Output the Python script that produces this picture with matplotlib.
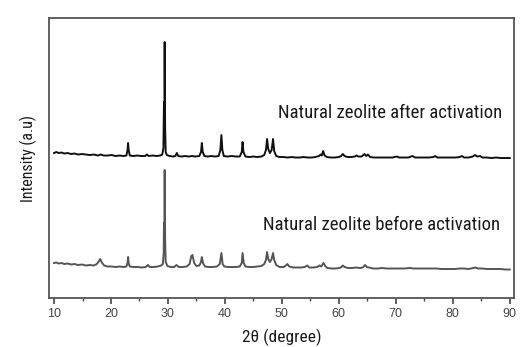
import matplotlib
matplotlib.use('Agg')
import matplotlib.pyplot as plt
import numpy as np

# XRD patterns of the zeolite, (2theta, intensity a.u.) pairs
after_activation = [
    (10.0, 145), (10.4, 146), (10.8, 145), (11.3, 145.5), (11.8, 144.5), (12.4, 145), (13.0, 144),
    (13.6, 144.5), (14.2, 143.5), (14.9, 144), (15.6, 143.5), (16.3, 143), (17.0, 143.5), (17.7, 142.5),
    (18.2, 143.5), (18.7, 142.5), (19.4, 142.5), (20.1, 143), (20.8, 142), (21.5, 142.5), (22.2, 142),
    (22.7, 142.5), (22.9, 148), (23.0, 155), (23.1, 148), (23.3, 142.5), (23.9, 142), (24.6, 142.5),
    (25.3, 142), (26.0, 142), (26.3, 143.5), (26.6, 142), (27.3, 142.5), (28.0, 142), (28.6, 142.5),
    (29.0, 143.5), (29.2, 150), (29.3, 196), (29.36, 160), (29.42, 256), (29.5, 170), (29.6, 146),
    (29.8, 143), (30.3, 142), (30.9, 141.5), (31.3, 142), (31.55, 145), (31.8, 142), (32.4, 141.5),
    (33.0, 142), (33.6, 141.5), (34.2, 142), (34.8, 141.5), (35.5, 142), (35.8, 146), (35.95, 155),
    (36.1, 146), (36.4, 142), (37.0, 141.5), (37.6, 142), (38.3, 141.5), (38.9, 142), (39.2, 148),
    (39.38, 163), (39.55, 148), (39.8, 142), (40.5, 141.5), (41.2, 142), (41.9, 141.5), (42.6, 141.5),
    (42.95, 146), (43.1, 156), (43.25, 146), (43.6, 141.5), (44.3, 141), (45.0, 141.5), (45.7, 141),
    (46.4, 141.5), (46.9, 143), (47.2, 148), (47.4, 159), (47.6, 149), (47.9, 145), (48.2, 148),
    (48.45, 159), (48.65, 147), (49.0, 142), (49.6, 141), (50.3, 141), (51.0, 140.5), (51.7, 141),
    (52.4, 140.5), (53.1, 140.5), (53.8, 141), (54.5, 140.5), (55.2, 140.5), (55.9, 141), (56.5, 142),
    (56.8, 143.5), (57.0, 142.5), (57.25, 147), (57.5, 142.5), (57.9, 141), (58.6, 140.5), (59.3, 140.5),
    (60.0, 141), (60.4, 142), (60.7, 144), (61.0, 142), (61.5, 141), (62.2, 141), (62.8, 141.5),
    (63.1, 142.5), (63.4, 141.5), (64.0, 141.5), (64.5, 144), (64.8, 142), (65.1, 143.5), (65.5, 141),
    (66.2, 140.5), (67.0, 140.5), (67.8, 140.5), (68.6, 140.5), (69.4, 140.5), (70.2, 141.5), (70.6, 140.5),
    (71.4, 140.5), (72.2, 140.5), (72.9, 142), (73.4, 140.5), (74.2, 140.5), (75.0, 140.5), (75.8, 140.5),
    (76.6, 141), (76.9, 142), (77.3, 140.5), (78.1, 140.5), (78.9, 140.5), (79.7, 140.5), (80.5, 140.5),
    (81.2, 141), (81.6, 142), (82.0, 140.5), (82.8, 140.5), (83.5, 141.5), (83.9, 143), (84.3, 141.5),
    (84.8, 142), (85.2, 140.5), (86.0, 140.5), (86.8, 140), (87.6, 140.5), (88.4, 140), (89.2, 140),
    (90.0, 140),
]

before_activation = [
    (10.0, 35), (10.4, 35.5), (10.8, 34.5), (11.3, 35), (11.8, 34), (12.4, 34.5), (13.0, 33.5),
    (13.6, 34), (14.2, 33), (14.9, 33.5), (15.6, 32.5), (16.3, 33), (16.9, 32.5), (17.4, 33.5),
    (17.8, 36), (18.1, 39), (18.4, 35.5), (18.8, 32.5), (19.4, 31.5), (20.1, 31.5), (20.8, 31),
    (21.5, 31.5), (22.2, 31), (22.7, 31.5), (22.9, 35), (23.0, 41), (23.1, 35), (23.3, 31.5),
    (24.0, 31), (24.7, 31), (25.4, 30.5), (26.1, 31), (26.5, 33), (26.8, 31), (27.5, 31),
    (28.2, 31.5), (28.8, 32.5), (29.1, 34), (29.25, 45), (29.3, 75), (29.36, 55), (29.42, 128),
    (29.5, 60), (29.6, 36), (29.9, 32), (30.5, 31), (31.1, 31), (31.5, 33), (31.9, 31), (32.6, 31),
    (33.3, 31.5), (33.8, 34), (34.1, 42), (34.3, 43), (34.6, 35), (35.0, 32), (35.5, 32.5), (35.8, 36),
    (35.95, 41), (36.15, 35), (36.5, 31.5), (37.2, 31), (37.9, 31), (38.6, 31.5), (39.1, 34),
    (39.38, 45), (39.6, 34), (39.9, 31.5), (40.6, 31), (41.3, 31), (42.0, 31), (42.6, 31.5),
    (42.95, 35), (43.1, 45), (43.3, 35), (43.6, 31.5), (44.3, 31), (45.0, 31), (45.7, 31.5),
    (46.4, 32), (46.9, 34), (47.2, 38), (47.4, 46), (47.6, 39), (47.9, 36), (48.2, 39), (48.45, 45),
    (48.65, 38), (49.0, 33), (49.6, 31), (50.3, 31), (50.7, 32.5), (50.95, 34), (51.3, 31.5),
    (52.0, 30.5), (52.7, 30.5), (53.4, 30.5), (54.0, 31), (54.45, 32.5), (54.8, 30.5), (55.5, 30.5),
    (56.2, 31), (56.6, 32.5), (56.9, 31.5), (57.3, 35), (57.6, 32), (58.0, 30), (58.7, 29.5),
    (59.4, 29.5), (60.1, 30), (60.45, 31), (60.7, 32.5), (61.0, 31), (61.6, 30), (62.3, 30),
    (63.0, 30.5), (63.7, 30), (64.2, 30.5), (64.6, 33), (64.9, 31), (65.3, 30.5), (66.0, 29.5),
    (66.8, 29.5), (67.6, 30), (68.4, 29.5), (69.2, 29.5), (70.0, 29.5), (70.8, 29.5), (71.6, 29.5),
    (72.4, 30), (73.2, 29.5), (74.0, 29.5), (74.8, 29.5), (75.6, 29.5), (76.4, 29.5), (77.2, 29.5),
    (78.0, 29), (78.8, 29), (79.6, 29), (80.4, 29), (81.2, 29.5), (82.0, 29.5), (82.8, 29),
    (83.6, 30), (84.0, 30.5), (84.4, 29.5), (85.2, 29.5), (86.0, 29), (86.8, 29), (87.6, 29),
    (88.4, 29), (89.2, 28.5), (90.0, 28.5),
]

labels = ['Natural zeolite after activation', 'Natural zeolite before activation']
x_ticks = [10, 20, 30, 40, 50, 60, 70, 80, 90]

narrow = ['Roboto Condensed', 'DejaVu Sans']

fig = plt.figure(figsize=(5.28, 3.47), dpi=100)
ax = fig.add_axes([0.0934, 0.1412, 0.8801, 0.8068])

tt_a, int_a = np.array(after_activation).T
tt_b, int_b = np.array(before_activation).T
ax.plot(tt_a, int_a, color='#111111', lw=1.4)
ax.plot(tt_b, int_b, color='#555555', lw=1.4)

# Curve labels
ax.text(49.3, 185, labels[0], family=narrow, fontsize=13.5, color='#1a1a1a', va='center')
ax.text(46.6, 73, labels[1], family=narrow, fontsize=13.5, color='#1a1a1a', va='center')

ax.set_xlim(9.17, 90.75)
ax.set_ylim(0, 280)
ax.set_xticks(x_ticks)
ax.set_xticks(np.arange(15, 90, 10), minor=True)
ax.set_yticks([])
ax.tick_params(axis='x', which='major', direction='out', length=4, width=1.2,
               color='#444444', labelsize=9, labelcolor='#444444', pad=3)
ax.tick_params(axis='x', which='minor', direction='out', length=2.5, width=1.0, color='#444444')
for lbl in ax.get_xticklabels():
    lbl.set_family(['Liberation Sans', 'DejaVu Sans'])
for s in ax.spines.values():
    s.set_color('#555555')
    s.set_linewidth(1.3)

fig.text(0.053, 1 - 158 / 347, 'Intensity (a.u)', family=narrow, fontsize=11.5,
         rotation=90, ha='center', va='center', color='#1a1a1a')
fig.text(282 / 528, 1 - 337 / 347, '2θ (degree)', family=narrow, fontsize=12.5,
         ha='center', va='center', color='#1a1a1a')

fig.savefig('out.png', dpi=100)
